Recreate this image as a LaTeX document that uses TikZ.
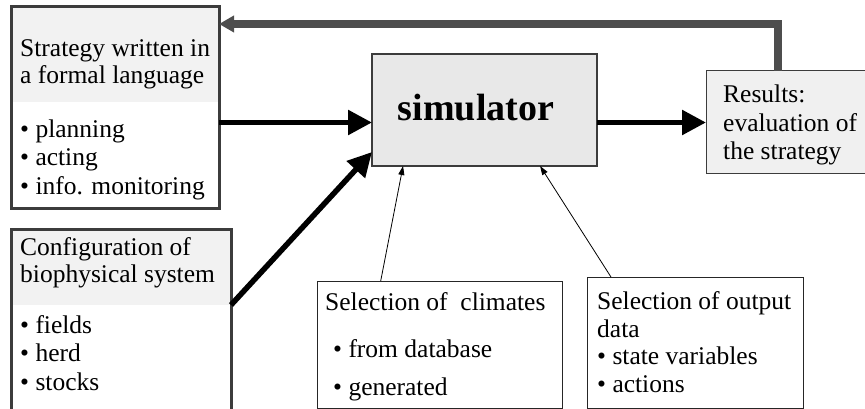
\documentclass[tikz,border=0pt]{standalone}
\usepackage{fontspec}
\setmainfont{Liberation Serif}
\usetikzlibrary{arrows.meta,calc}
\definecolor{hdr}{HTML}{F2F2F2}
\definecolor{simfill}{HTML}{E8E8E8}
\definecolor{resfill}{HTML}{F0F0F0}
\definecolor{frame}{HTML}{3C3C3C}
\definecolor{fback}{HTML}{4D4D4D}
\begin{document}
\begin{tikzpicture}[x=1pt,y=-1pt,
  txt/.style={anchor=base west, inner sep=0pt, align=left, font=\fontsize{25.5}{28.5}\selectfont},
  boxnode/.style={rectangle, inner sep=0pt, outer sep=0pt},
  heavy/.style={line width=5.5pt, -{Triangle[length=24pt,width=24pt]}},
  thinarrow/.style={line width=0.8pt, -{Triangle[length=9pt,width=6pt]}},
  feedback/.style={line width=7.5pt, draw=fback, -{Triangle[length=15pt,width=16pt]}}
]
\useasboundingbox (0,0) rectangle (865,409);

% Strategy box
\fill[hdr] (11,7) rectangle (219,102);
\node[boxnode, draw=frame, line width=3pt, minimum width=208pt, minimum height=201pt] (strat) at (115,107.5) {};
\node[txt, font=\fontsize{25.5}{27}\selectfont] (strattitle) at (20,84) {Strategy written in\\a formal language};
\node[txt] (stratlist) at (20,194) {• planning\\• acting\\• info. monitoring};

% Configuration box (open at the bottom)
\node[boxnode, fill=hdr, minimum width=220pt, minimum height=76pt] (cfghead) at (121,267) {};
\node[boxnode, minimum width=220pt, minimum height=181pt] (cfg) at (121,319.5) {};
\draw[frame, line width=3pt] (cfg.south west) -- (cfg.north west) -- (cfg.north east) -- (cfg.south east);
\node[txt, font=\fontsize{25.5}{27}\selectfont] (cfgtitle) at (20,282) {Configuration of\\biophysical system};
\node[txt] (cfglist) at (20,390) {• fields\\• herd\\• stocks};

% Simulator
\node[boxnode, draw=frame, fill=simfill, line width=1.2pt, minimum width=225pt, minimum height=112pt] (sim) at (484.5,110) {};
\node[anchor=base, inner sep=0pt, font=\fontsize{38}{40}\selectfont\bfseries] (simtext) at (476,121) {simulator};

% Results
\node[boxnode, fill=resfill, minimum width=160pt, minimum height=103pt] (res) at (786,122.5) {};
\draw[frame, line width=1pt] (res.north east) -- (res.north west) -- (res.south west) -- (res.south east);
\node[txt] (restext) at (723,160) {Results:\\evaluation of\\the strategy};

% Climates
\node[boxnode, draw=black!85, line width=0.9pt, minimum width=245pt, minimum height=127pt] (clim) at (439.5,344.5) {};
\node[txt] (climtitle) at (325,310) {Selection of\ \ climates};
\node[txt] (climlist) at (333,395) {• from database\\[9.5pt]• generated};

% Output data
\node[boxnode, draw=black!85, line width=0.9pt, minimum width=216pt, minimum height=131pt] (outd) at (695,342.5) {};
\node[txt, font=\fontsize{25.5}{27.5}\selectfont] (outtext) at (597,392) {Selection of output\\data\\• state variables\\• actions};

% Connectors
\draw[heavy] (strat.east |- res.west) -- (sim.west |- res.west);
\draw[heavy] (sim.east |- res.west) -- (res.west);
\draw[heavy] (cfghead.south east) -- ($(sim.south west)!0.125!(sim.north west)$);
\draw[thinarrow] ($(clim.north west)!0.26!(clim.north east)$) -- ($(sim.south west)!0.138!(sim.south east)$);
\draw[thinarrow] ($(outd.north west)!0.111!(outd.north east)$) -- ($(sim.south west)!0.747!(sim.south east)$);
\coordinate (fb) at (778,24);
\draw[feedback] (res.north -| fb) -- (fb) -- (strat.east |- fb);
\end{tikzpicture}
\end{document}
